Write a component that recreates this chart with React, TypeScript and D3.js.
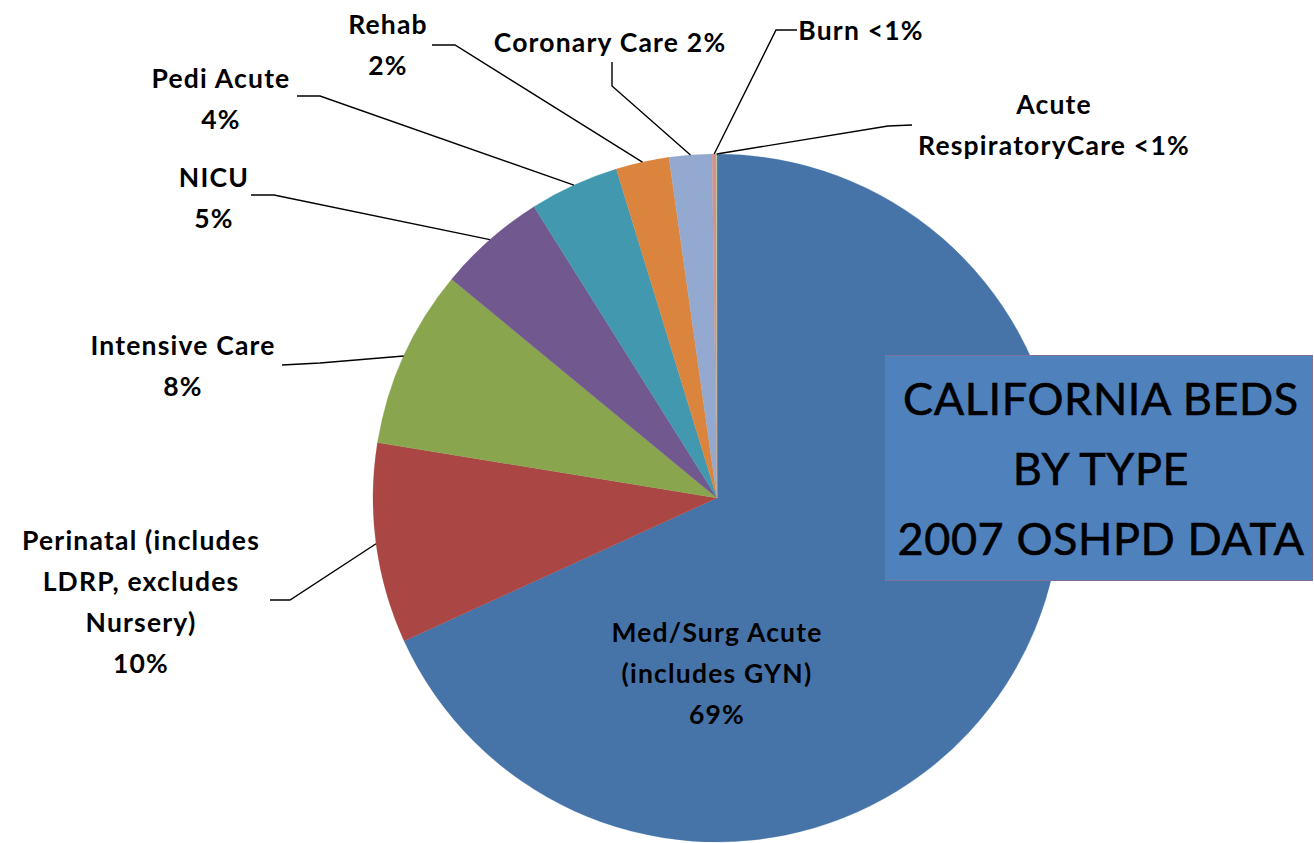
import React from "react";
import * as d3 from "d3";

// ---- data ----
const categories = [
  "Med/Surg Acute (includes GYN)",
  "Perinatal (includes LDRP, excludes Nursery)",
  "Intensive Care",
  "NICU",
  "Pedi Acute",
  "Rehab",
  "Coronary Care",
  "Burn",
  "Acute RespiratoryCare",
];
const values = [68.2, 9.4, 8.4, 5.1, 4.2, 2.5, 2.0, 0.2, 0.03];
const percentLabels = ["69%", "10%", "8%", "5%", "4%", "2%", "2%", "<1%", "<1%"];
const labelTexts = [
  ["Med/Surg Acute", "(includes GYN)", "69%"],
  ["Perinatal (includes", "LDRP, excludes", "Nursery)", "10%"],
  ["Intensive Care", "8%"],
  ["NICU", "5%"],
  ["Pedi Acute", "4%"],
  ["Rehab", "2%"],
  ["Coronary Care 2%"],
  ["Burn <1%"],
  ["Acute", "RespiratoryCare <1%"],
];
const titleLines = ["CALIFORNIA BEDS", "BY TYPE", "2007 OSHPD DATA"];

// ---- styling / layout ----
const colors = ["#4674A9", "#AA4643", "#89A54E", "#71588F", "#4198AF", "#DB843D", "#93A9CF", "#D19392", "#B9CD96"];
const W = 1314, H = 843;
const cx = 717, cy = 498, R = 344;
const lineGap = 41;
const labelLayout: { x: number; y: number; leader: [number, number][] | null }[] = [
  { x: 717, y: 632, leader: null },
  { x: 141, y: 540, leader: [[270, 600], [290, 600]] },
  { x: 183, y: 345, leader: [[282, 365], [320, 363]] },
  { x: 214, y: 177, leader: [[251, 195], [274, 195]] },
  { x: 221, y: 78, leader: [[297, 96], [320, 96]] },
  { x: 388, y: 24, leader: [[432, 45], [455, 45]] },
  { x: 610, y: 42, leader: [[612, 62], [612, 86]] },
  { x: 861, y: 30, leader: [[797, 30], [776, 30]] },
  { x: 1054, y: 104, leader: [[912, 125], [888, 126]] },
];
const labelFont = "Lato, 'Open Sans', sans-serif";

export default function App() {
  const pie = d3.pie<number>().sort(null).value((d) => d)(values);
  const arc = d3.arc<d3.PieArcDatum<number>>().innerRadius(0).outerRadius(R);

  return (
    <div style={{ position: "absolute", left: 0, top: 0 }}>
      <svg width={W} height={H} style={{ display: "block", background: "#fff" }}>
        <g transform={`translate(${cx},${cy})`}>
          {pie.map((p, i) => (
            <path key={categories[i]} d={arc(p) || ""} fill={colors[i]} stroke={colors[i]} strokeWidth={0.3} />
          ))}
        </g>
        {/* leader lines */}
        {pie.map((p, i) => {
          const L = labelLayout[i];
          if (!L.leader) return null;
          const a = (p.startAngle + p.endAngle) / 2;
          const end: [number, number] = [cx + R * Math.sin(a), cy - R * Math.cos(a)];
          const pts = [...L.leader, end];
          return (
            <polyline
              key={"l" + i}
              points={pts.map((q) => q.join(",")).join(" ")}
              fill="none"
              stroke="#000"
              strokeWidth={1.4}
            />
          );
        })}
        {/* labels */}
        {labelTexts.map((lines, i) => {
          const L = labelLayout[i];
          return (
            <text
              key={"t" + i}
              textAnchor="middle"
              fontFamily={labelFont}
              fontWeight={700}
              fontSize={26.5}
              letterSpacing={1.2}
              fill="#000"
            >
              {lines.map((ln, k) => (
                <tspan key={k} x={L.x} y={L.y + k * lineGap} dy="0.36em">
                  {ln}
                </tspan>
              ))}
            </text>
          );
        })}
        {/* title box */}
        <rect x={885.5} y={355.5} width={427} height={225} fill="#4F81BD" stroke="#8070A0" strokeWidth={1} />
        {titleLines.map((t, k) => (
          <text
            key={"title" + k}
            x={1101}
            y={415 + k * 70}
            textAnchor="middle"
            fontFamily={labelFont}
            fontSize={45}
            letterSpacing={0.6}
            stroke="#000"
            strokeWidth={0.6}
            fill="#000"
          >
            {t}
          </text>
        ))}
      </svg>
    </div>
  );
}
